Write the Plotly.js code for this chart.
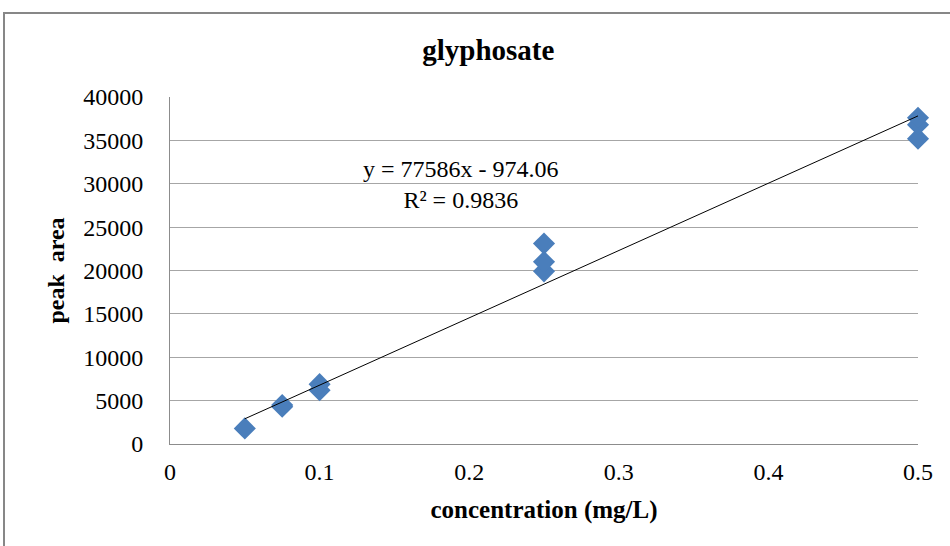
<!DOCTYPE html>
<html>
<head>
<meta charset="utf-8">
<script src="https://cdn.plot.ly/plotly-3.0.1.min.js"></script>
<style>
html,body{margin:0;padding:0;background:#fff;}
#chart{width:950px;height:546px;}
</style>
</head>
<body>
<div id="chart"></div>
<script>
// Data
const concentration = [0.05, 0.075, 0.075, 0.1, 0.1, 0.25, 0.25, 0.25, 0.5, 0.5, 0.5];
const peakArea = [1800, 4300, 4500, 6200, 6900, 19900, 21000, 23100, 35200, 36800, 37600];
// Linear trendline as printed on the chart
const slope = 77586;
const intercept = -974.06;
const rSquared = 0.9836;
const trendX = [0.05, 0.5];
const trendY = trendX.map(x => slope * x + intercept);
const xTicks = [0, 0.1, 0.2, 0.3, 0.4, 0.5];
const xTickText = ['0', '0.1', '0.2', '0.3', '0.4', '0.5'];
const yTicks = [0, 5000, 10000, 15000, 20000, 25000, 30000, 35000, 40000];
const yTickText = ['0', '5000', '10000', '15000', '20000', '25000', '30000', '35000', '40000'];

const serif = '"Liberation Serif", "Times New Roman", serif';

const traces = [
  {
    x: concentration, y: peakArea, type: 'scatter', mode: 'markers',
    marker: {symbol: 'diamond', size: 17, color: '#4A7EBB', line: {width: 0}},
    cliponaxis: false,
    showlegend: false, hoverinfo: 'x+y'
  },
  {
    x: trendX, y: trendY, type: 'scatter', mode: 'lines',
    line: {color: '#000000', width: 1},
    showlegend: false, hoverinfo: 'skip'
  }
];

const layout = {
  width: 950, height: 546,
  margin: {l: 170, r: 32, t: 97, b: 102},
  paper_bgcolor: '#ffffff', plot_bgcolor: '#ffffff',
  font: {family: serif, color: '#000', size: 24},
  title: {
    text: '<b>glyphosate</b>', font: {family: serif, size: 29, color: '#000'},
    xref: 'container', yref: 'container', x: 0.514, y: 1 - 50/546,
    xanchor: 'center', yanchor: 'middle'
  },
  xaxis: {
    range: [0, 0.5], tickvals: xTicks, ticktext: xTickText,
    showgrid: false, zeroline: false,
    showline: true, linecolor: '#8c8c8c', linewidth: 1,
    ticks: '', ticklabelstandoff: 6,
    tickfont: {family: serif, size: 24, color: '#000'},
    title: {text: '<b>concentration (mg/L)</b>', font: {family: serif, size: 25, color: '#000'}, standoff: 16},
    automargin: false, fixedrange: true
  },
  yaxis: {
    range: [0, 40000], tickvals: yTicks, ticktext: yTickText,
    showgrid: true, gridcolor: '#a6a6a6', gridwidth: 1,
    zeroline: false, showline: true, linecolor: '#8c8c8c', linewidth: 1,
    ticks: '', ticklabelstandoff: 21,
    tickfont: {family: serif, size: 24, color: '#000'},
    title: {text: '<b>peak  area</b>', font: {family: serif, size: 24, color: '#000'}, standoff: 11},
    automargin: false, fixedrange: true
  },
  annotations: [
    {
      xref: 'paper', yref: 'paper',
      x: (461 - 170) / 748, y: (444 - 184) / 347,
      xanchor: 'center', yanchor: 'middle', showarrow: false, align: 'center',
      text: 'y = ' + slope + 'x - ' + Math.abs(intercept).toFixed(2) + '<br>R² = ' + rSquared,
      font: {family: serif, size: 24, color: '#000'}
    }
  ],
  shapes: [
    {
      type: 'rect', xref: 'paper', yref: 'paper', layer: 'below',
      x0: (4 - 170) / 748, x1: (960 - 170) / 748,
      y0: (444 - 560) / 347, y1: (444 - 13) / 347,
      line: {color: '#878787', width: 2}, fillcolor: 'rgba(0,0,0,0)'
    }
  ]
};

Plotly.newPlot('chart', traces, layout, {displayModeBar: false, staticPlot: true});
</script>
</body>
</html>
